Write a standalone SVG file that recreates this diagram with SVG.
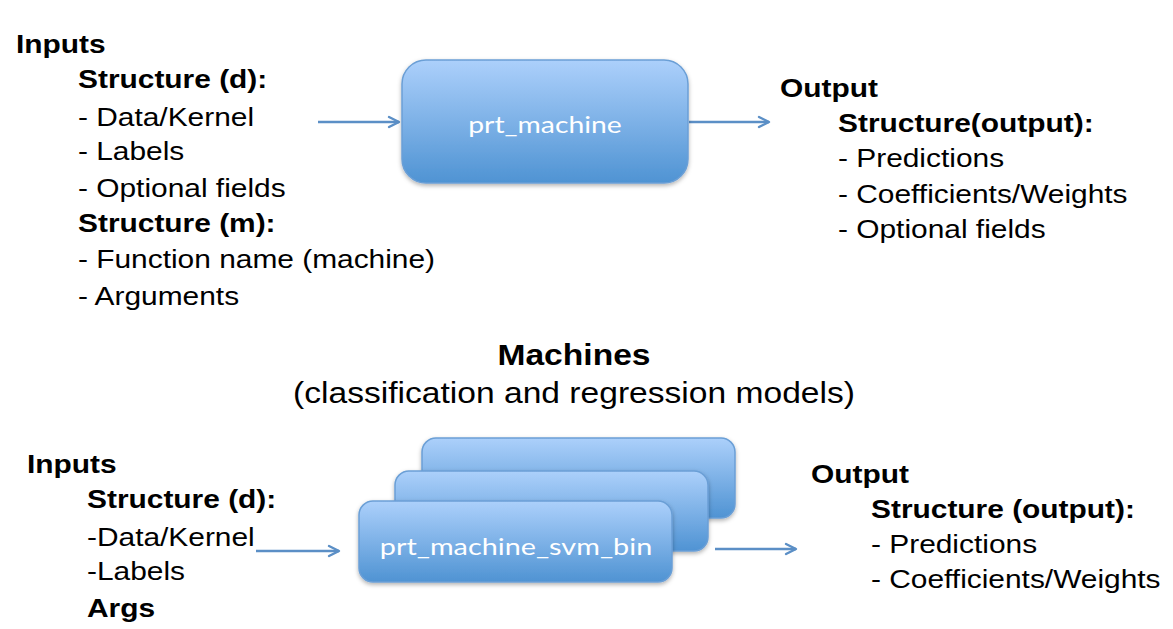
<svg xmlns="http://www.w3.org/2000/svg" width="1173" height="629" viewBox="0 0 1173 629">
<defs>
<linearGradient id="g" x1="0" y1="0" x2="0" y2="1">
<stop offset="0" stop-color="#acd0fb"/>
<stop offset="1" stop-color="#4f93d3"/>
</linearGradient>
<filter id="sh" x="-10%" y="-10%" width="120%" height="130%">
<feDropShadow dx="0" dy="2" stdDeviation="2" flood-color="#000" flood-opacity="0.3"/>
</filter>
<marker id="ah" viewBox="0 0 14 14" refX="12" refY="7" markerWidth="14" markerHeight="14" markerUnits="userSpaceOnUse" orient="auto">
<path d="M2,2 L12,7 L2,12" fill="none" stroke="#5b8fc6" stroke-width="2.4" stroke-linecap="round" stroke-linejoin="round"/>
</marker>
<style>
.t{font-family:"Liberation Sans",Arial,sans-serif;font-size:26px;fill:#000}
.b{font-weight:bold}
.h{font-size:30px;text-anchor:middle}
.box{fill:url(#g);stroke:#6b9fd6;stroke-width:1.5;filter:url(#sh)}
.lbl{font-family:Lato,"Open Sans",sans-serif;font-size:24px;fill:#fff;text-anchor:middle}
.c{fill:none;stroke:#5b8fc6;stroke-width:2.5;marker-end:url(#ah)}
</style>
</defs>
<rect width="1173" height="629" fill="#fff"/>
<g id="connectors">
<line class="c" x1="318" y1="122" x2="399" y2="122"/>
<line class="c" x1="689" y1="122" x2="769" y2="122"/>
<line class="c" x1="256" y1="551" x2="339" y2="551"/>
<line class="c" x1="715" y1="549" x2="796" y2="549"/>
</g>
<g id="node-prt_machine">
<rect class="box" x="402" y="60" width="286" height="123" rx="24"/>
<text class="lbl" transform="translate(545 133) scale(1.18 1)">prt_machine</text>
</g>
<g id="node-stack-back">
<rect class="box" x="422" y="438" width="313" height="80" rx="14"/>
</g>
<g id="node-stack-middle">
<rect class="box" x="395" y="471" width="313" height="80" rx="14"/>
</g>
<g id="node-prt_machine_svm_bin">
<rect class="box" x="359" y="501" width="313" height="81" rx="14"/>
<text class="lbl" transform="translate(516 555) scale(1.2 1)">prt_machine_svm_bin</text>
</g>
<g id="top-inputs">
<text class="t b" transform="translate(16 53) scale(1.15 1)">Inputs</text>
<text class="t b" transform="translate(78 88) scale(1.15 1)">Structure (d):</text>
<text class="t" transform="translate(78 126) scale(1.15 1)">- Data/Kernel</text>
<text class="t" transform="translate(78 160) scale(1.15 1)">- Labels</text>
<text class="t" transform="translate(78 197) scale(1.15 1)">- Optional fields</text>
<text class="t b" transform="translate(78 232) scale(1.15 1)">Structure (m):</text>
<text class="t" transform="translate(78 268) scale(1.15 1)">- Function name (machine)</text>
<text class="t" transform="translate(78 305) scale(1.15 1)">- Arguments</text>
</g>
<g id="top-output">
<text class="t b" transform="translate(780 97) scale(1.15 1)">Output</text>
<text class="t b" transform="translate(838 132) scale(1.15 1)">Structure(output):</text>
<text class="t" transform="translate(838 167) scale(1.15 1)">- Predictions</text>
<text class="t" transform="translate(838 203) scale(1.15 1)">- Coefficients/Weights</text>
<text class="t" transform="translate(838 238) scale(1.15 1)">- Optional fields</text>
</g>
<g id="title">
<text class="t b h" transform="translate(574 365) scale(1.12 1)">Machines</text>
<text class="t h" transform="translate(574 403) scale(1.12 1)">(classification and regression models)</text>
</g>
<g id="bottom-inputs">
<text class="t b" transform="translate(27 473) scale(1.15 1)">Inputs</text>
<text class="t b" transform="translate(87 508) scale(1.15 1)">Structure (d):</text>
<text class="t" transform="translate(87 546) scale(1.15 1)">-Data/Kernel</text>
<text class="t" transform="translate(87 580) scale(1.15 1)">-Labels</text>
<text class="t b" transform="translate(87 617) scale(1.15 1)">Args</text>
</g>
<g id="bottom-output">
<text class="t b" transform="translate(811 483) scale(1.15 1)">Output</text>
<text class="t b" transform="translate(871 518) scale(1.15 1)">Structure (output):</text>
<text class="t" transform="translate(871 553) scale(1.15 1)">- Predictions</text>
<text class="t" transform="translate(871 588) scale(1.15 1)">- Coefficients/Weights</text>
</g>
</svg>
